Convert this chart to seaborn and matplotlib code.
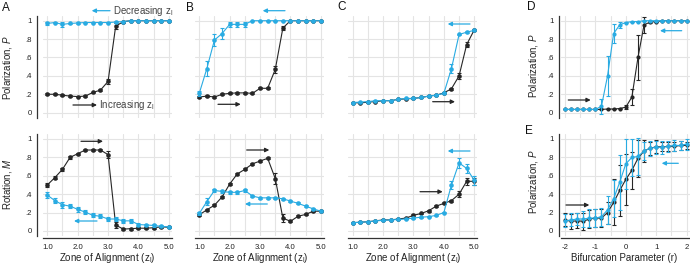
import matplotlib
matplotlib.use("Agg")
import matplotlib.pyplot as plt
import seaborn as sns

# =========================
# Data
# =========================
BLUE = "#29abe2"
DARK = "#262626"

zone = [1.0, 1.25, 1.5, 1.75, 2.0, 2.25, 2.5, 2.75, 3.0,
        3.25, 3.5, 3.75, 4.0, 4.25, 4.5, 4.75, 5.0]
r_vals = [-2.0, -1.8, -1.6, -1.4, -1.2, -1.0, -0.8, -0.6, -0.4, -0.2, 0.0,
          0.2, 0.4, 0.6, 0.8, 1.0, 1.2, 1.4, 1.6, 1.8, 2.0]

# panel A
a_pol_inc = [0.20, 0.20, 0.19, 0.18, 0.175, 0.18, 0.22, 0.245, 0.34, 0.94, 0.99, 1.0, 1.0, 1.0, 1.0, 1.0, 1.0]
a_pol_inc_err = [0.01, 0.01, 0.01, 0.01, 0.01, 0.01, 0.01, 0.01, 0.03, 0.03, 0.01, 0, 0, 0, 0, 0, 0]
a_pol_dec = [0.97, 0.98, 0.96, 0.97, 0.975, 0.98, 0.98, 0.98, 0.98, 0.985, 0.99, 1.0, 1.0, 1.0, 1.0, 1.0, 1.0]
a_pol_dec_err = [0.015, 0.01, 0.025, 0.01, 0.01, 0.01, 0.01, 0.01, 0.01, 0.01, 0.005, 0, 0, 0, 0, 0, 0]
a_rot_inc = [0.50, 0.58, 0.67, 0.80, 0.84, 0.88, 0.88, 0.88, 0.83, 0.065, 0.02, 0.025, 0.03, 0.03, 0.035, 0.045, 0.04]
a_rot_inc_err = [0.02, 0.015, 0.015, 0.015, 0.01, 0.01, 0.01, 0.01, 0.04, 0.03, 0.01, 0.01, 0.01, 0.01, 0.01, 0.01, 0.01]
a_rot_dec = [0.39, 0.33, 0.285, 0.27, 0.235, 0.205, 0.17, 0.16, 0.13, 0.13, 0.11, 0.11, 0.07, 0.065, 0.06, 0.05, 0.045]
a_rot_dec_err = [0.035, 0.03, 0.03, 0.025, 0.025, 0.02, 0.02, 0.02, 0.02, 0.02, 0.02, 0.02, 0.015, 0.015, 0.015, 0.01, 0.01]

# panel B
b_pol_inc = [0.17, 0.18, 0.17, 0.20, 0.21, 0.215, 0.215, 0.21, 0.265, 0.265, 0.47, 0.92, 1.0, 1.0, 1.0, 1.0, 1.0]
b_pol_inc_err = [0.01, 0.01, 0.01, 0.01, 0.01, 0.01, 0.01, 0.01, 0.01, 0.01, 0.04, 0.02, 0, 0, 0, 0, 0]
b_pol_dec = [0.21, 0.48, 0.79, 0.86, 0.96, 0.96, 0.96, 1.0, 1.0, 1.0, 1.0, 1.0, 1.0, 1.0, 1.0, 1.0, 1.0]
b_pol_dec_err = [0.03, 0.08, 0.07, 0.06, 0.03, 0.03, 0.03, 0, 0, 0, 0, 0, 0, 0, 0, 0, 0]
b_rot_inc = [0.175, 0.23, 0.28, 0.37, 0.51, 0.62, 0.67, 0.73, 0.76, 0.79, 0.57, 0.14, 0.105, 0.16, 0.18, 0.215, 0.215]
b_rot_inc_err = [0.01, 0.01, 0.01, 0.01, 0.01, 0.01, 0.01, 0.01, 0.01, 0.01, 0.06, 0.04, 0.01, 0.01, 0.01, 0.01, 0.01]
b_rot_dec = [0.19, 0.32, 0.44, 0.43, 0.42, 0.42, 0.44, 0.38, 0.36, 0.36, 0.36, 0.35, 0.325, 0.30, 0.27, 0.24, 0.215]
b_rot_dec_err = [0.02, 0.04, 0.02, 0.015, 0.015, 0.015, 0.015, 0.015, 0.01, 0.01, 0.01, 0.01, 0.01, 0.01, 0.01, 0.01, 0.01]

# panel C
c_pol_inc = [0.11, 0.105, 0.115, 0.12, 0.13, 0.13, 0.145, 0.15, 0.155, 0.165, 0.18, 0.19, 0.215, 0.26, 0.40, 0.74, 0.90]
c_pol_inc_err = [0.005, 0.005, 0.005, 0.005, 0.005, 0.005, 0.005, 0.005, 0.005, 0.005, 0.005, 0.005, 0.01, 0.01, 0.03, 0.03, 0.01]
c_pol_dec = [0.11, 0.115, 0.12, 0.13, 0.13, 0.13, 0.145, 0.155, 0.155, 0.165, 0.18, 0.19, 0.21, 0.48, 0.85, 0.875, 0.895]
c_pol_dec_err = [0.005, 0.005, 0.005, 0.005, 0.005, 0.005, 0.005, 0.005, 0.005, 0.005, 0.005, 0.005, 0.01, 0.05, 0.01, 0.01, 0.01]
c_rot_inc = [0.09, 0.095, 0.10, 0.11, 0.12, 0.12, 0.13, 0.14, 0.17, 0.19, 0.22, 0.27, 0.30, 0.33, 0.40, 0.54, 0.54]
c_rot_inc_err = [0.005, 0.005, 0.005, 0.005, 0.005, 0.005, 0.005, 0.005, 0.01, 0.01, 0.01, 0.01, 0.01, 0.01, 0.03, 0.04, 0.04]
c_rot_dec = [0.09, 0.095, 0.10, 0.11, 0.115, 0.12, 0.125, 0.13, 0.14, 0.15, 0.155, 0.17, 0.20, 0.50, 0.74, 0.68, 0.55]
c_rot_dec_err = [0.005, 0.005, 0.005, 0.005, 0.005, 0.005, 0.005, 0.005, 0.005, 0.005, 0.005, 0.005, 0.01, 0.04, 0.05, 0.05, 0.05]

# panel D
d_pol_inc = [0.035, 0.035, 0.035, 0.035, 0.035, 0.035, 0.035, 0.04, 0.04, 0.045, 0.06,
             0.17, 0.60, 0.955, 0.985, 0.99, 1.0, 1.0, 1.0, 1.0, 1.0]
d_pol_inc_err = [0, 0, 0, 0, 0, 0, 0, 0, 0, 0.005, 0.02,
                 0.09, 0.245, 0.09, 0.01, 0, 0, 0, 0, 0, 0]
d_pol_dec = [0.035, 0.035, 0.035, 0.035, 0.035, 0.035, 0.07, 0.40, 0.86, 0.955, 0.98,
             0.99, 0.99, 1.0, 1.0, 1.0, 1.0, 1.0, 1.0, 1.0, 1.0]
d_pol_dec_err = [0, 0, 0, 0, 0, 0, 0.08, 0.22, 0.10, 0.03, 0.01,
                 0, 0, 0, 0, 0, 0, 0, 0, 0, 0]

# panel E
e_pol_inc = [0.12, 0.105, 0.11, 0.105, 0.13, 0.14, 0.14, 0.20, 0.31, 0.44, 0.56,
             0.66, 0.79, 0.87, 0.90, 0.915, 0.915, 0.92, 0.92, 0.93, 0.93]
e_pol_inc_err = [0.07, 0.08, 0.08, 0.09, 0.10, 0.10, 0.10, 0.12, 0.25, 0.28, 0.28,
                 0.20, 0.20, 0.12, 0.07, 0.07, 0.05, 0.05, 0.05, 0.05, 0.04]
e_pol_dec = [0.11, 0.12, 0.13, 0.13, 0.14, 0.14, 0.155, 0.23, 0.35, 0.53, 0.73,
             0.80, 0.81, 0.87, 0.90, 0.91, 0.91, 0.92, 0.93, 0.93, 0.945]
e_pol_dec_err = [0.07, 0.07, 0.07, 0.09, 0.10, 0.10, 0.10, 0.15, 0.20, 0.30, 0.27,
                 0.20, 0.20, 0.10, 0.08, 0.07, 0.07, 0.06, 0.06, 0.05, 0.06]

y_ticks = [0, 0.2, 0.4, 0.6, 0.8, 1.0]
y_labels = ["0", ".2", ".4", ".6", ".8", "1"]
zone_ticks = [1.0, 1.5, 2.0, 2.5, 3.0, 3.5, 4.0, 4.5, 5.0]
zone_labels = ["1.0", "", "2.0", "", "3.0", "", "4.0", "", "5.0"]
r_ticks = [-2, -1.5, -1, -0.5, 0, 0.5, 1, 1.5, 2]
r_labels = ["-2", "", "-1", "", "0", "", "1", "", "2"]

# =========================
# Style
# =========================
sns.set_theme(style="whitegrid")
plt.rcParams["font.family"] = ["Liberation Sans", "DejaVu Sans"]
plt.rcParams["mathtext.fontset"] = "custom"
plt.rcParams["mathtext.rm"] = "Liberation Sans"
plt.rcParams["mathtext.it"] = "Liberation Sans:italic"

W, H = 690, 265
fig = plt.figure(figsize=(W / 100, H / 100), dpi=100)


def px_axes(left, top, width, height):
    return fig.add_axes([left / W, 1 - (top + height) / H, width / W, height / H])


ZONE_LIM = (0.86, 5.09)
R_LIM = (-2.13, 2.11)
Y_LIM = (-0.058, 1.051)
AX_W, AX_H = 128.6, 102

col_left = {"A": 43.0, "B": 195.0, "C": 348.4, "D": 561.0}
row_top = {"top": 16.0, "bottom": 134.3}


def draw(ax, x, inc, inc_err, dec, dec_err, ms=3.3):
    for y, e, c, z in [(inc, inc_err, DARK, 3), (dec, dec_err, BLUE, 4)]:
        ax.errorbar(x, y, yerr=e, fmt="none", ecolor=c, elinewidth=0.8,
                    capsize=1.6, capthick=0.8, zorder=z, clip_on=False)
        sns.lineplot(x=x, y=y, ax=ax, color=c, marker="o", markersize=ms,
                     markeredgewidth=0, linewidth=0.8, zorder=z, clip_on=False)


def style(ax, xlim, xticks, xlabels, show_y, show_x):
    ax.set_xlim(*xlim)
    ax.set_ylim(*Y_LIM)
    ax.grid(True, color="#e4e4e4", linewidth=0.8)
    ax.set_axisbelow(True)
    ax.set_xticks(xticks)
    ax.set_yticks(y_ticks)
    for s in ["top", "right"]:
        ax.spines[s].set_visible(False)
    ax.spines["left"].set_visible(show_y)
    ax.spines["bottom"].set_visible(show_x)
    for s in ["left", "bottom"]:
        ax.spines[s].set_color("#333333")
        ax.spines[s].set_linewidth(0.9)
    ax.spines["left"].set_position(("outward", 4))
    ax.spines["bottom"].set_position(("outward", 1.5))
    ax.tick_params(axis="both", labelsize=5.6, colors="#222222", pad=1.5,
                   width=0.8, length=2.5)
    if show_y:
        ax.set_yticklabels(y_labels)
    else:
        ax.set_yticklabels([])
        ax.tick_params(axis="y", length=0)
    if show_x:
        ax.set_xticklabels(xlabels)
    else:
        ax.set_xticklabels([])
        ax.tick_params(axis="x", length=0)
    ax.set_xlabel("")
    ax.set_ylabel("")


panels = [
    ("A", "top", zone, a_pol_inc, a_pol_inc_err, a_pol_dec, a_pol_dec_err),
    ("A", "bottom", zone, a_rot_inc, a_rot_inc_err, a_rot_dec, a_rot_dec_err),
    ("B", "top", zone, b_pol_inc, b_pol_inc_err, b_pol_dec, b_pol_dec_err),
    ("B", "bottom", zone, b_rot_inc, b_rot_inc_err, b_rot_dec, b_rot_dec_err),
    ("C", "top", zone, c_pol_inc, c_pol_inc_err, c_pol_dec, c_pol_dec_err),
    ("C", "bottom", zone, c_rot_inc, c_rot_inc_err, c_rot_dec, c_rot_dec_err),
    ("D", "top", r_vals, d_pol_inc, d_pol_inc_err, d_pol_dec, d_pol_dec_err),
    ("D", "bottom", r_vals, e_pol_inc, e_pol_inc_err, e_pol_dec, e_pol_dec_err),
]

for col, row, x, inc, inc_e, dec, dec_e in panels:
    ax = px_axes(col_left[col], row_top[row], AX_W if col != "D" else 129, AX_H)
    draw(ax, x, inc, inc_e, dec, dec_e, ms=3.3 if col != "D" else 3.0)
    if col == "D":
        style(ax, R_LIM, r_ticks, r_labels, True, row == "bottom")
        ax.spines["left"].set_position(("outward", 1.5))
    else:
        style(ax, ZONE_LIM, zone_ticks, zone_labels, col == "A", row == "bottom")

# =========================
# Text: labels, panel letters, legends
# =========================
def ftext(x, y, s, **kw):
    fig.text(x / W, 1 - y / H, s, **kw)


for letter, x, y in [("A", 2, 8), ("B", 186, 8), ("C", 337, 7), ("D", 527, 7), ("E", 525, 131)]:
    ftext(x, y, letter, fontsize=8.5, ha="left", va="center", color="#111111")

ylab_kw = dict(fontsize=7, rotation=90, ha="center", va="center", color="#222222")
ftext(8, 68, r"Polarization, $\mathit{P}$", **ylab_kw)
ftext(8, 184, r"Rotation, $\mathit{M}$", **ylab_kw)
ftext(533, 66, r"Polarization, $\mathit{P}$", **ylab_kw)
ftext(533, 182, r"Polarization, $\mathit{P}$", **ylab_kw)

xlab_kw = dict(fontsize=7, ha="center", va="center", color="#222222")
zone_text = r"Zone of Alignment ($\mathregular{z_l}$)"
ftext(107, 258, zone_text, **xlab_kw)
ftext(260, 258, zone_text, **xlab_kw)
ftext(413, 258, zone_text, **xlab_kw)
ftext(624, 258, "Bifurcation Parameter (r)", **xlab_kw)

ftext(113, 10.5, r"Decreasing $\mathregular{z_l}$", fontsize=7, ha="left", va="center", color="#444444")
ftext(99, 105, r"Increasing $\mathregular{z_l}$", fontsize=7, ha="left", va="center", color="#444444")

# arrows: (tail x, head x, y, colour), in figure pixels from top-left
arrows = [
    (110, 91.7, 10.7, BLUE), (73, 97, 105, DARK),
    (81, 103, 141.3, DARK), (97, 74, 221, BLUE),
    (285, 262.7, 10.7, BLUE), (218, 240.7, 104.3, DARK),
    (246.7, 269.3, 150, DARK), (267.3, 245, 204, BLUE),
    (470, 447.7, 24, BLUE), (432.7, 455, 101.7, DARK),
    (470, 447.7, 151, BLUE), (420, 442.7, 191.7, DARK),
    (568.3, 590.7, 100, DARK), (681.7, 660, 30.7, BLUE),
    (566, 589.3, 205, DARK), (678.3, 661.7, 163.3, BLUE),
]
for x0, x1, y, c in arrows:
    fig.add_artist(matplotlib.patches.FancyArrowPatch(
        (x0 / W, 1 - y / H), (x1 / W, 1 - y / H), transform=fig.transFigure,
        arrowstyle="-|>", mutation_scale=6, color=c, linewidth=0.9,
        shrinkA=0, shrinkB=0))

fig.savefig("out.png", dpi=100)
